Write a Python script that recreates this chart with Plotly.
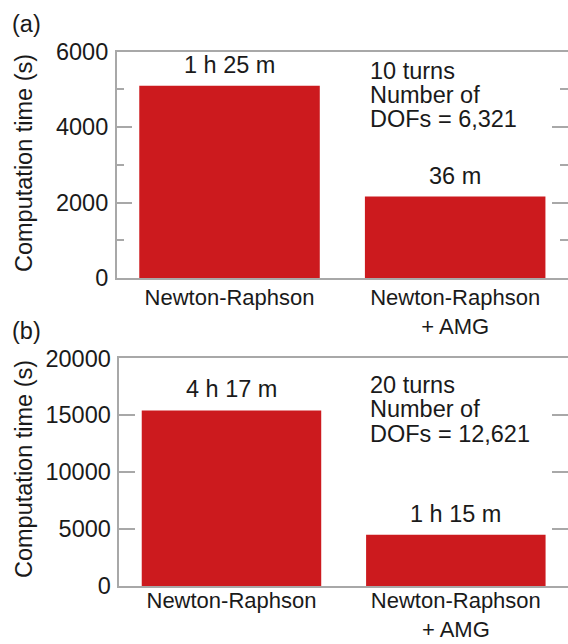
import plotly.graph_objects as go

# ---- data ----
categories = ["Newton-Raphson", "Newton-Raphson + AMG"]
tick_text = ["Newton-Raphson", "Newton-Raphson<br>+ AMG"]
times_a = [5100, 2160]      # seconds, 10 turns
times_b = [15420, 4500]     # seconds, 20 turns
labels_a = ["1 h 25 m", "36 m"]
labels_b = ["4 h 17 m", "1 h 15 m"]
info_a = ["10 turns", "Number of", "DOFs = 6,321"]
info_b = ["20 turns", "Number of", "DOFs = 12,621"]
panel_names = ["(a)", "(b)"]
y_title = "Computation time (s)"

W, H = 568, 644
FONT = "Liberation Sans, Arial, sans-serif"
FS = 23.5
FSX = 22
BAR = "#CC1A1E"
AX = "#A8A8A8"
TXT = "#1a1a1a"


def px_x(x):
    return x / W


def px_y(y):
    return 1 - y / H


fig = go.Figure()
fig.add_trace(go.Bar(x=categories, y=times_a, marker=dict(color=BAR, line=dict(width=0)),
                     xaxis="x", yaxis="y", showlegend=False))
fig.add_trace(go.Bar(x=categories, y=times_b, marker=dict(color=BAR, line=dict(width=0)),
                     xaxis="x2", yaxis="y2", showlegend=False))

common_x = dict(type="category", tickmode="array", tickvals=categories, ticktext=tick_text,
                showline=True, linecolor=AX, linewidth=1.5, mirror=True, ticks="",
                tickfont=dict(family=FONT, size=FSX, color=TXT), showgrid=False,
                zeroline=False, automargin=False)
common_y = dict(showline=True, linecolor=AX, linewidth=1.5, mirror="ticks", ticks="inside",
                ticklen=16, tickwidth=1.5, tickcolor=AX, showgrid=False, zeroline=False,
                tickformat="d", automargin=False,
                tickfont=dict(family=FONT, size=FS, color=TXT), ticklabelstandoff=2)

layout = dict(
    width=W, height=H, margin=dict(l=0, r=0, t=0, b=0, autoexpand=False),
    paper_bgcolor="white", plot_bgcolor="white", bargap=0.2,
    font=dict(family=FONT, size=FS, color=TXT),
    xaxis=dict(domain=[px_x(116.7), 1.0], anchor="y", ticklabelstandoff=-1, **common_x),
    yaxis=dict(domain=[px_y(278), px_y(51.7)], anchor="x", range=[0, 6000], dtick=2000,
               minor=dict(dtick=1000, ticks="inside", ticklen=8, tickcolor=AX, tickwidth=1.5),
               **common_y),
    xaxis2=dict(domain=[px_x(119.3), 1.0], anchor="y2", ticklabelstandoff=-6, **common_x),
    yaxis2=dict(domain=[px_y(586), px_y(358.3)], anchor="x2", range=[0, 20000], dtick=5000,
                **common_y),
)
fig.update_layout(**layout)

ann = []
# bar value labels
for xr, yr, vals, labs in [("x", "y", times_a, labels_a), ("x2", "y2", times_b, labels_b)]:
    for c, v, t in zip(categories, vals, labs):
        ann.append(dict(x=c, y=v, xref=xr, yref=yr, text=t, showarrow=False,
                        xanchor="center", yanchor="bottom", yshift=6,
                        font=dict(family=FONT, size=FS, color=TXT)))
# info text lines
for lines, tops in [(info_a, [63, 87, 111]), (info_b, [377, 401, 426])]:
    for line, top in zip(lines, tops):
        ann.append(dict(x=px_x(368), y=px_y(top + 8.3), xref="paper", yref="paper",
                        text=line, showarrow=False, xanchor="left", yanchor="middle",
                        font=dict(family=FONT, size=FS, color=TXT)))
# panel labels
for name, yc in zip(panel_names, [24, 331]):
    ann.append(dict(x=px_x(10), y=px_y(yc), xref="paper", yref="paper", text=name,
                    showarrow=False, xanchor="left", yanchor="middle",
                    font=dict(family=FONT, size=FS, color=TXT)))
# y-axis titles
for yc in [163, 469]:
    ann.append(dict(x=px_x(24), y=px_y(yc), xref="paper", yref="paper", text=y_title,
                    showarrow=False, textangle=-90, xanchor="center", yanchor="middle",
                    font=dict(family=FONT, size=FS, color=TXT)))
fig.update_layout(annotations=ann)

fig.write_html("out.html", config=dict(displayModeBar=False))
